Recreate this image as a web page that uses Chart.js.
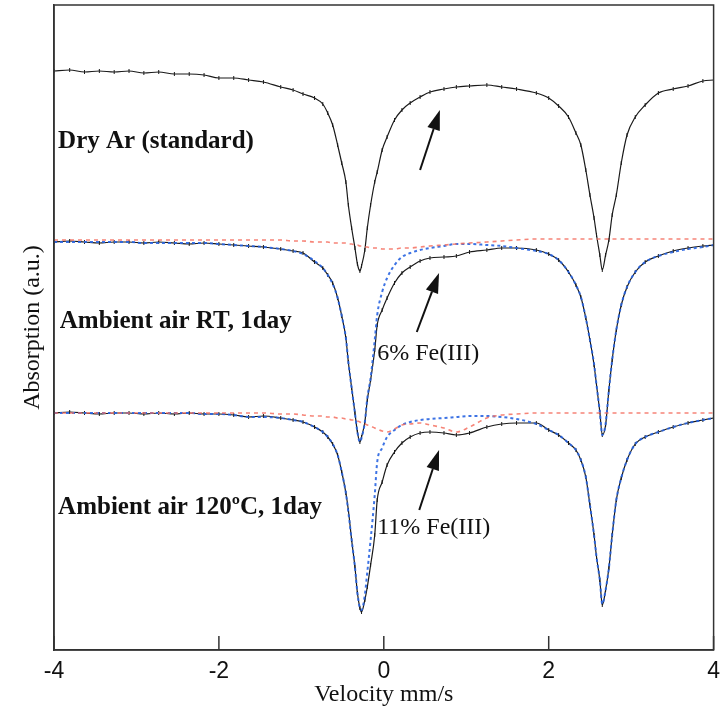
<!DOCTYPE html>
<html>
<head>
<meta charset="utf-8">
<script src="https://cdn.jsdelivr.net/npm/chart.js@4.4.1/dist/chart.umd.min.js"></script>
<style>
  html, body { margin: 0; padding: 0; background: #fff; }
  #wrap { width: 728px; height: 709px; }
</style>
</head>
<body>
<div id="wrap"><canvas id="myChart"></canvas></div>
<script>
// velocity grid (mm/s), shared by all spectra
const velocity = [-4.00, -3.81, -3.63, -3.45, -3.27, -3.09, -2.91, -2.73, -2.54, -2.36, -2.18, -2.00, -1.82, -1.64, -1.46, -1.25, -1.10, -0.98, -0.84, -0.74,
  -0.68, -0.62, -0.56, -0.51, -0.46, -0.43, -0.39, -0.35, -0.32, -0.29, -0.27, -0.23, -0.20, -0.16, -0.11, -0.08, -0.02, 0.04, 0.13, 0.22,
  0.32, 0.44, 0.56, 0.73, 0.88, 1.04, 1.25, 1.43, 1.61, 1.85, 2.00, 2.12, 2.24, 2.33, 2.39, 2.45, 2.50, 2.55, 2.58, 2.62,
  2.65, 2.69, 2.73, 2.77, 2.82, 2.88, 2.95, 3.05, 3.17, 3.33, 3.51, 3.69, 3.87, 4.00];

// Dry Ar (standard) - measured
const dryAr = [5.79, 5.80, 5.78, 5.79, 5.78, 5.79, 5.77, 5.78, 5.76, 5.76, 5.75, 5.72, 5.72, 5.70, 5.68, 5.63, 5.60, 5.56, 5.52, 5.46,
  5.37, 5.25, 5.05, 4.87, 4.68, 4.45, 4.22, 4.02, 3.86, 3.79, 3.84, 4.00, 4.22, 4.45, 4.68, 4.78, 5.00, 5.13, 5.30, 5.40,
  5.47, 5.53, 5.58, 5.61, 5.63, 5.64, 5.65, 5.63, 5.61, 5.57, 5.52, 5.44, 5.33, 5.17, 5.05, 4.80, 4.55, 4.32, 4.15, 3.95,
  3.80, 3.95, 4.10, 4.35, 4.55, 4.87, 5.15, 5.33, 5.45, 5.57, 5.61, 5.64, 5.69, 5.70];

// Ambient air RT, 1 day - measured, total fit, Fe(III) component
const rtData = [4.08, 4.09, 4.08, 4.07, 4.08, 4.08, 4.07, 4.08, 4.07, 4.06, 4.07, 4.06, 4.05, 4.04, 4.03, 4.01, 3.99, 3.97, 3.88, 3.82,
  3.75, 3.67, 3.52, 3.34, 3.12, 2.88, 2.62, 2.37, 2.18, 2.08, 2.13, 2.28, 2.50, 2.70, 3.00, 3.25, 3.40, 3.52, 3.67, 3.77,
  3.83, 3.89, 3.92, 3.93, 3.94, 3.98, 4.00, 4.02, 4.02, 4.00, 3.96, 3.90, 3.78, 3.65, 3.53, 3.32, 3.10, 2.85, 2.65, 2.38,
  2.15, 2.25, 2.60, 2.90, 3.20, 3.45, 3.63, 3.78, 3.88, 3.94, 3.99, 4.02, 4.04, 4.05];
const rtFit = [4.08, 4.08, 4.08, 4.08, 4.08, 4.08, 4.07, 4.07, 4.07, 4.07, 4.07, 4.06, 4.05, 4.04, 4.03, 4.01, 3.99, 3.96, 3.89, 3.82,
  3.75, 3.66, 3.52, 3.34, 3.12, 2.88, 2.62, 2.37, 2.18, 2.08, 2.12, 2.28, 2.52, 2.72, 3.10, 3.35, 3.58, 3.72, 3.85, 3.93,
  3.97, 4.00, 4.02, 4.04, 4.06, 4.06, 4.05, 4.04, 4.02, 3.99, 3.96, 3.90, 3.78, 3.65, 3.53, 3.32, 3.10, 2.86, 2.65, 2.38,
  2.15, 2.26, 2.60, 2.90, 3.20, 3.45, 3.63, 3.78, 3.88, 3.94, 3.98, 4.01, 4.03, 4.05];
const rtFe3 = [4.10, 4.10, 4.10, 4.10, 4.10, 4.10, 4.10, 4.10, 4.10, 4.10, 4.10, 4.10, 4.10, 4.10, 4.10, 4.10, 4.09, 4.09, 4.08, 4.08,
  4.08, 4.07, 4.07, 4.07, 4.07, 4.06, 4.06, 4.05, 4.05, 4.04, 4.04, 4.03, 4.03, 4.02, 4.02, 4.02, 4.01, 4.01, 4.01, 4.02,
  4.02, 4.03, 4.04, 4.05, 4.06, 4.07, 4.08, 4.09, 4.10, 4.11, 4.11, 4.11, 4.11, 4.11, 4.11, 4.11, 4.11, 4.11, 4.11, 4.11,
  4.11, 4.11, 4.11, 4.11, 4.11, 4.11, 4.11, 4.11, 4.11, 4.11, 4.11, 4.11, 4.11, 4.11];

// Ambient air 120C, 1 day - measured, total fit, Fe(III) component
const hotData = [2.37, 2.38, 2.37, 2.36, 2.37, 2.37, 2.36, 2.37, 2.36, 2.37, 2.36, 2.36, 2.35, 2.33, 2.34, 2.32, 2.30, 2.28, 2.23, 2.18,
  2.13, 2.06, 1.95, 1.78, 1.57, 1.40, 1.10, 0.83, 0.57, 0.42, 0.38, 0.50, 0.63, 0.85, 1.15, 1.50, 1.68, 1.85, 1.98, 2.07,
  2.13, 2.17, 2.18, 2.17, 2.15, 2.17, 2.23, 2.26, 2.27, 2.27, 2.20, 2.15, 2.07, 2.00, 1.90, 1.73, 1.45, 1.15, 0.93, 0.70,
  0.45, 0.60, 0.82, 1.15, 1.50, 1.72, 1.90, 2.06, 2.13, 2.18, 2.23, 2.27, 2.30, 2.32];
const hotFit = [2.37, 2.37, 2.37, 2.37, 2.37, 2.37, 2.37, 2.37, 2.37, 2.37, 2.36, 2.36, 2.35, 2.33, 2.33, 2.32, 2.30, 2.28, 2.23, 2.18,
  2.13, 2.06, 1.95, 1.78, 1.57, 1.38, 1.10, 0.83, 0.57, 0.42, 0.40, 0.55, 0.78, 1.10, 1.55, 1.88, 2.02, 2.13, 2.20, 2.25,
  2.28, 2.30, 2.31, 2.32, 2.33, 2.34, 2.34, 2.33, 2.31, 2.26, 2.20, 2.15, 2.07, 2.00, 1.90, 1.73, 1.45, 1.15, 0.93, 0.70,
  0.46, 0.60, 0.82, 1.15, 1.50, 1.72, 1.90, 2.06, 2.13, 2.18, 2.23, 2.27, 2.30, 2.32];
const hotFe3 = [2.37, 2.37, 2.37, 2.37, 2.37, 2.37, 2.37, 2.37, 2.37, 2.37, 2.37, 2.37, 2.37, 2.37, 2.37, 2.36, 2.36, 2.35, 2.34, 2.34,
  2.33, 2.33, 2.32, 2.32, 2.31, 2.31, 2.30, 2.30, 2.29, 2.28, 2.27, 2.26, 2.25, 2.24, 2.22, 2.21, 2.19, 2.18, 2.21, 2.25,
  2.26, 2.27, 2.25, 2.22, 2.18, 2.23, 2.32, 2.35, 2.36, 2.37, 2.37, 2.37, 2.37, 2.37, 2.37, 2.37, 2.37, 2.37, 2.37, 2.37,
  2.37, 2.37, 2.37, 2.37, 2.37, 2.37, 2.37, 2.37, 2.37, 2.37, 2.37, 2.37, 2.37, 2.37];

const xTickValues = [-4, -2, 0, 2, 4];

// labels and arrows inside the plot, in data units
const sampleLabels = [
  { text: 'Dry Ar (standard)', v: -3.95, y: 5.08, bold: true },
  { text: 'Ambient air RT, 1day', v: -3.93, y: 3.28, bold: true },
  { text: 'Ambient air 120\u00baC, 1day', v: -3.95, y: 1.42, bold: true },
  { text: '6% Fe(III)', v: -0.08, y: 2.96, bold: false },
  { text: '11% Fe(III)', v: -0.08, y: 1.22, bold: false }
];
const arrows = [
  { v0: 0.44, y0: 4.80, v1: 0.68, y1: 5.40 },
  { v0: 0.40, y0: 3.18, v1: 0.67, y1: 3.77 },
  { v0: 0.43, y0: 1.40, v1: 0.67, y1: 2.00 }
];

const pts = (arr) => arr.map((y, i) => ({ x: velocity[i], y: y }));

const measured = (arr) => ({
  data: pts(arr),
  borderColor: '#1a1a1a',
  borderWidth: 1.2,
  pointStyle: 'line',
  rotation: 90,
  pointRadius: 2,
  pointBorderColor: '#1a1a1a',
  pointBorderWidth: 1,
  cubicInterpolationMode: 'monotone',
  order: 3
});
const fit = (arr) => ({
  data: pts(arr),
  borderColor: 'rgba(40, 100, 225, 0.9)',
  borderWidth: 2,
  borderDash: [3, 3],
  pointRadius: 0,
  cubicInterpolationMode: 'monotone',
  order: 2
});
const fe3 = (arr) => ({
  data: pts(arr),
  borderColor: 'rgba(245, 110, 95, 0.85)',
  borderWidth: 1.6,
  borderDash: [4, 4],
  pointRadius: 0,
  cubicInterpolationMode: 'monotone',
  order: 1
});

// frame, inward ticks, labels, arrows
const decorations = {
  id: 'decorations',
  afterDatasetsDraw(chart) {
    const ctx = chart.ctx;
    const a = chart.chartArea;
    const xs = chart.scales.x, ys = chart.scales.y;
    ctx.save();
    ctx.strokeStyle = '#333';
    ctx.lineWidth = 1.5;
    ctx.strokeRect(a.left, a.top, a.right - a.left, a.bottom - a.top);
    xTickValues.forEach(v => {
      const px = xs.getPixelForValue(v);
      ctx.beginPath();
      ctx.moveTo(px, a.bottom);
      ctx.lineTo(px, a.bottom - 14);
      ctx.stroke();
    });
    ctx.fillStyle = '#111';
    ctx.textBaseline = 'middle';
    ctx.textAlign = 'left';
    sampleLabels.forEach(l => {
      ctx.font = (l.bold ? 'bold 25px ' : '24px ') + '"Liberation Serif", "DejaVu Serif", serif';
      ctx.fillText(l.text, xs.getPixelForValue(l.v), ys.getPixelForValue(l.y));
    });
    ctx.strokeStyle = '#111';
    ctx.lineWidth = 2;
    arrows.forEach(ar => {
      const x0 = xs.getPixelForValue(ar.v0), y0 = ys.getPixelForValue(ar.y0);
      const x1 = xs.getPixelForValue(ar.v1), y1 = ys.getPixelForValue(ar.y1);
      const ang = Math.atan2(y1 - y0, x1 - x0);
      const hl = 20, hw = 6.5;
      const bx = x1 - hl * Math.cos(ang), by = y1 - hl * Math.sin(ang);
      ctx.beginPath();
      ctx.moveTo(x0, y0);
      ctx.lineTo(bx, by);
      ctx.stroke();
      ctx.beginPath();
      ctx.moveTo(x1, y1);
      ctx.lineTo(bx + hw * Math.sin(ang), by - hw * Math.cos(ang));
      ctx.lineTo(bx - hw * Math.sin(ang), by + hw * Math.cos(ang));
      ctx.closePath();
      ctx.fill();
    });
    ctx.restore();
  }
};

const config = {
  type: 'line',
  data: {
    datasets: [
      measured(dryAr),
      measured(rtData), fit(rtFit), fe3(rtFe3),
      measured(hotData), fit(hotFit), fe3(hotFe3)
    ]
  },
  options: {
    responsive: true,
    maintainAspectRatio: false,
    animation: false,
    layout: { padding: { top: 5, right: 9, left: 0, bottom: 0 } },
    plugins: { legend: { display: false }, tooltip: { enabled: false } },
    scales: {
      x: {
        type: 'linear',
        min: -4,
        max: 4,
        afterBuildTicks: (s) => { s.ticks = xTickValues.map(v => ({ value: v })); },
        afterFit: (s) => { s.height = 59; },
        grid: { display: false, drawTicks: false },
        border: { display: true, color: '#333', width: 1.5 },
        ticks: {
          color: '#111',
          padding: 8,
          maxRotation: 0,
          font: { family: '"Liberation Sans", Arial, sans-serif', size: 23 }
        },
        title: {
          display: true,
          text: 'Velocity mm/s',
          color: '#111',
          padding: { top: 0, bottom: 0 },
          font: { family: '"Liberation Serif", serif', size: 24 }
        }
      },
      y: {
        type: 'linear',
        min: 0,
        max: 6.45,
        afterFit: (s) => { s.width = 54; },
        grid: { display: false, drawTicks: false },
        border: { display: true, color: '#333', width: 1.5 },
        ticks: { display: false },
        title: {
          display: true,
          text: 'Absorption (a.u.)',
          color: '#111',
          padding: { top: 18, bottom: 0 },
          font: { family: '"Liberation Serif", serif', size: 24 }
        }
      }
    }
  },
  plugins: [decorations]
};

const myChart = new Chart(document.getElementById('myChart'), config);
</script>
</body>
</html>
